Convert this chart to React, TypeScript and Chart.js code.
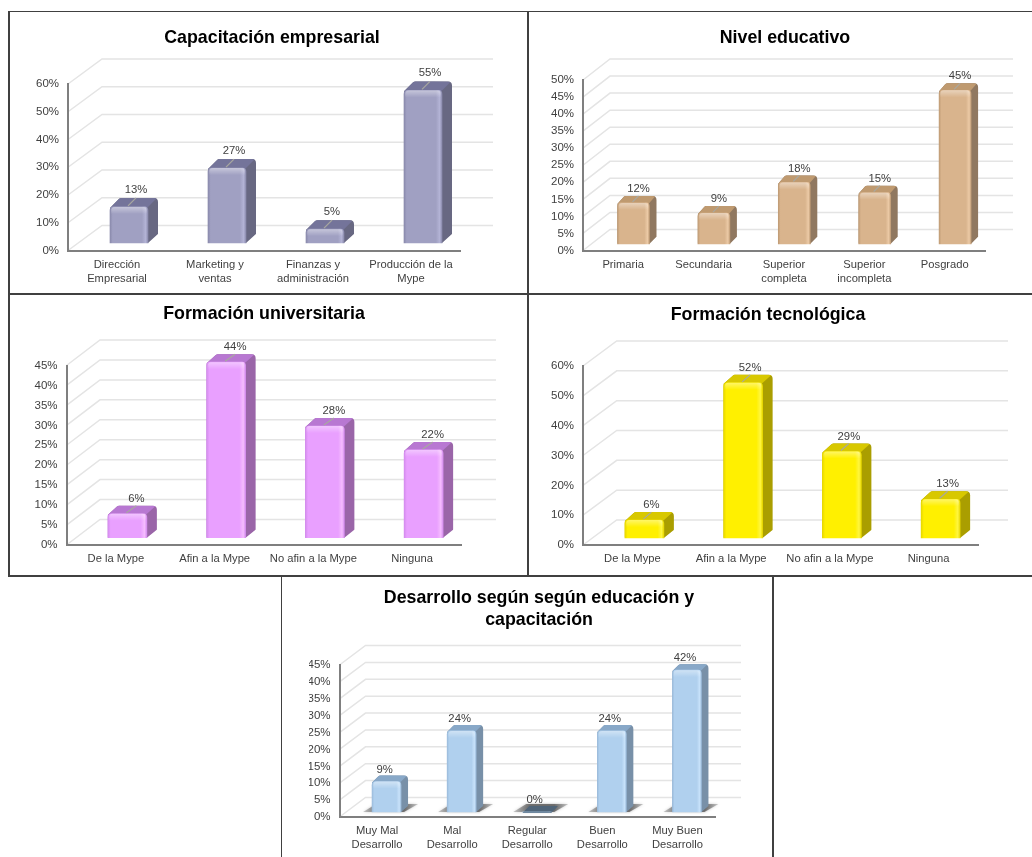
import React, { useEffect, useRef } from "react";
import { Chart, registerables } from "chart.js";

Chart.register(...registerables);

const FONT = "'Liberation Sans', Arial, sans-serif";

const capLabels = [["Dirección", "Empresarial"], ["Marketing y", "ventas"], ["Finanzas y", "administración"], ["Producción de la", "Mype"]];
const capValues = [13, 27, 5, 55];
const eduLabels = ["Primaria", "Secundaria", ["Superior", "completa"], ["Superior", "incompleta"], "Posgrado"];
const eduValues = [12, 9, 18, 15, 45];
const uniLabels = ["De la Mype", "Afin a la Mype", "No afin a la Mype", "Ninguna"];
const uniValues = [6, 44, 28, 22];
const tecLabels = ["De la Mype", "Afin a la Mype", "No afin a la Mype", "Ninguna"];
const tecValues = [6, 52, 29, 13];
const devLabels = [["Muy Mal", "Desarrollo"], ["Mal", "Desarrollo"], ["Regular", "Desarrollo"], ["Buen", "Desarrollo"], ["Muy Buen", "Desarrollo"]];
const devValues = [9, 24, 0, 24, 42];

type Panel = {
  title: string | string[]; labels: any[]; values: number[]; max: number; step: number;
  cx: number; half: number; top: number; height: number;
  axisX: number; axisEnd: number; axisTop: number; axisBottom: number; titleY: number;
  backX: number; backY: number; backRight: number; dx: number; dy: number; bw: number; dX: number; dY: number;
  front: string; side: string; topc: string; lblDx: number; lblDy: number; leader: boolean; shadow: boolean; edge: string; dark: string;
};

const panels: Panel[] = [
  { title: "Capacitación empresarial", labels: capLabels, values: capValues, max: 60, step: 10, cx: 272, half: 264, top: 11, height: 282,
    axisX: 68, axisEnd: 460, axisTop: 84, axisBottom: 250.5, titleY: 38, backX: 34, backY: -25, backRight: 493, dx: 12, dy: -7.5, bw: 38, dX: 10, dY: 9,
    front: "#a0a0c2", edge: "#b4b4d6", dark: "#8a8aac", side: "#686882", topc: "#74749a", lblDx: 7, lblDy: -17, leader: true, shadow: false },
  { title: "Nivel educativo", labels: eduLabels, values: eduValues, max: 50, step: 5, cx: 785, half: 247, top: 11, height: 282,
    axisX: 583, axisEnd: 985, axisTop: 80, axisBottom: 250.5, titleY: 38, backX: 27, backY: -21, backRight: 1013, dx: 10.3, dy: -6.7, bw: 32, dX: 7, dY: 7,
    front: "#d9b48d", edge: "#eccaa6", dark: "#c09c76", side: "#907860", topc: "#bf9a70", lblDx: 5, lblDy: -14, leader: true, shadow: false },
  { title: "Formación universitaria", labels: uniLabels, values: uniValues, max: 45, step: 5, cx: 264, half: 256, top: 293, height: 282,
    axisX: 66.5, axisEnd: 461.5, axisTop: 365.5, axisBottom: 545, titleY: 314, backX: 33.5, backY: -25.5, backRight: 496, dx: 11.5, dy: -7.3, bw: 39, dX: 10, dY: 8,
    front: "#e9a0ff", edge: "#f6bcff", dark: "#d48cee", side: "#9a65a8", topc: "#b878d2", lblDx: 9, lblDy: -15, leader: true, shadow: false },
  { title: "Formación tecnológica", labels: tecLabels, values: tecValues, max: 60, step: 10, cx: 768, half: 240, top: 293, height: 282,
    axisX: 583, axisEnd: 978, axisTop: 366, axisBottom: 545, titleY: 315, backX: 33.7, backY: -25, backRight: 1012, dx: 12, dy: -7, bw: 39, dX: 10, dY: 8,
    front: "#fff000", edge: "#fff640", dark: "#e8d800", side: "#aa9e00", topc: "#d8c800", lblDx: 7, lblDy: -15, leader: true, shadow: false },
  { title: ["Desarrollo según según educación y", "capacitación"], labels: devLabels, values: devValues, max: 45, step: 5, cx: 539, half: 230, top: 576, height: 281,
    axisX: 339.5, axisEnd: 715, axisTop: 665, axisBottom: 817, titleY: 609, backX: 26, backY: -19.5, backRight: 741, dx: 9.5, dy: -5, bw: 29, dX: 7, dY: 6,
    front: "#b0d0ee", edge: "#c8e2fa", dark: "#9cbcdc", side: "#7890a8", topc: "#88a8c8", lblDx: -2, lblDy: -12, leader: false, shadow: true },
];

function roundedPoly(ctx: any, pts: number[][], radii: number[]) {
  const n = pts.length;
  ctx.beginPath();
  const mx = (pts[n - 1][0] + pts[0][0]) / 2;
  const my = (pts[n - 1][1] + pts[0][1]) / 2;
  ctx.moveTo(mx, my);
  for (let i = 0; i < n; i++) {
    const a = pts[i];
    const b = pts[(i + 1) % n];
    ctx.arcTo(a[0], a[1], b[0], b[1], radii[i]);
  }
  ctx.closePath();
}

function canvasLeft(p: Panel) {
  return p.cx - p.half;
}

function makePlugin(p: Panel) {
  return {
    id: "bars3d",
    afterLayout(chart: any) {
      if (chart.titleBlock) {
        chart.titleBlock.left = 0;
        chart.titleBlock.right = chart.width;
      }
    },
    beforeDraw(chart: any) {
      const { ctx, scales } = chart;
      const y = scales.y;
      ctx.save();
      ctx.strokeStyle = "#e4e4e4";
      ctx.lineWidth = 1.5;
      for (const t of y.getTicks()) {
        const py = y.getPixelForValue(t.value);
        ctx.beginPath();
        ctx.moveTo(chart.chartArea.left, py);
        ctx.lineTo(chart.chartArea.left + p.backX, py + p.backY);
        ctx.lineTo(p.backRight - canvasLeft(p), py + p.backY);
        ctx.stroke();
      }
      ctx.restore();
    },
    beforeDatasetDraw(chart: any) {
      const { ctx } = chart;
      const meta = chart.getDatasetMeta(0);
      ctx.save();
      ctx.translate(p.dx, p.dy);
      meta.data.forEach((el: any, i: number) => {
        const { x, y: top, base } = el.getProps(["x", "y", "base"], true);
        const l = x - p.bw / 2;
        const r = x + p.bw / 2;
        if (p.shadow) {
          ctx.save();
          ctx.shadowColor = "rgba(70,70,70,0.55)";
          ctx.shadowBlur = 3;
          const g = ctx.createLinearGradient(l - 9, 0, r + 17, 0);
          g.addColorStop(0, "rgba(110,110,110,0.35)");
          g.addColorStop(0.3, "rgba(70,70,70,0.7)");
          g.addColorStop(0.75, "rgba(70,70,70,0.7)");
          g.addColorStop(1, "rgba(110,110,110,0.35)");
          ctx.fillStyle = g;
          ctx.beginPath();
          ctx.moveTo(l - 9, base);
          ctx.lineTo(r + 3, base);
          ctx.lineTo(r + p.dX + 10, base - p.dY - 2);
          ctx.lineTo(l + 4, base - p.dY - 2);
          ctx.closePath();
          ctx.fill();
          ctx.restore();
        }
        const flat = p.values[i] === 0;
        if (flat) {
          ctx.fillStyle = "#4f6478";
          roundedPoly(ctx, [
            [l, top + 1],
            [r, top + 1],
            [r + p.dX, top - p.dY],
            [l + p.dX, top - p.dY],
          ], [0.5, 0.5, 0.5, 0.5]);
          ctx.fill();
          return;
        }
        ctx.save();
        roundedPoly(ctx, [
          [l, top + 1],
          [l + p.dX, top - p.dY],
          [r + p.dX, top - p.dY],
          [r + p.dX, base - p.dY],
          [r, base],
          [l, base],
        ], [1, 3, 4, 1, 1, 1]);
        ctx.clip();
        ctx.fillStyle = p.side;
        ctx.fillRect(l - 1, top - p.dY - 1, p.bw + p.dX + 2, base - top + p.dY + 2);
        ctx.fillStyle = p.topc;
        ctx.beginPath();
        ctx.moveTo(l - 1, top + 1);
        ctx.lineTo(r - 1, top + 1);
        ctx.lineTo(r + p.dX - 1, top - p.dY);
        ctx.lineTo(l, top - p.dY - 1);
        ctx.closePath();
        ctx.fill();
        ctx.restore();
      });
      ctx.restore();
      ctx.save();
      ctx.translate(p.dx, p.dy);
    },
    afterDatasetDraw(chart: any) {
      const { ctx } = chart;
      const meta = chart.getDatasetMeta(0);
      meta.data.forEach((el: any, i: number) => {
        const { x, y: top, base } = el.getProps(["x", "y", "base"], true);
        if (p.values[i] === 0) return;
        const l = x - p.bw / 2;
        const h = Math.min(7, base - top);
        const g = ctx.createLinearGradient(0, top, 0, top + h);
        g.addColorStop(0, "rgba(255,255,255,0.4)");
        g.addColorStop(1, "rgba(255,255,255,0)");
        ctx.fillStyle = g;
        ctx.beginPath();
        ctx.roundRect(l + 1, top, p.bw - 2, h, [4, 4, 0, 0]);
        ctx.fill();
      });
      ctx.restore();
      ctx.save();
      ctx.font = `11.3px ${FONT}`;
      ctx.textAlign = "center";
      ctx.textBaseline = "middle";
      meta.data.forEach((el: any, i: number) => {
        const { x, y: top } = el.getProps(["x", "y"], true);
        const fx = x + p.dx;
        const fy = top + p.dy;
        if (p.leader) {
          ctx.strokeStyle = "#a8a8a0";
          ctx.lineWidth = 1.2;
          ctx.beginPath();
          ctx.moveTo(fx - 1, fy - 1);
          ctx.lineTo(fx + p.lblDx, fy - p.dY);
          ctx.stroke();
        }
        ctx.fillStyle = "#404040";
        ctx.fillText(`${p.values[i]}%`, fx + p.lblDx, fy + p.lblDy);
      });
      ctx.restore();
    },
  };
}

function ChartPanel({ p }: { p: Panel }) {
  const ref = useRef<HTMLCanvasElement | null>(null);
  useEffect(() => {
    const width = p.half * 2;
    const left = canvasLeft(p);
    const lines = Array.isArray(p.title) ? p.title.length : 1;
    const lh = 22;
    const tp = p.titleY - p.top - lh / 2 - (lines > 1 ? 11 : 0);
    const tb = p.axisTop - p.top - tp - lines * lh;
    const yW = 40;
    const xH = 40;
    const chart = new Chart(ref.current as HTMLCanvasElement, {
      type: "bar",
      data: {
        labels: p.labels,
        datasets: [{
          data: p.values,
          barThickness: p.bw,
          borderRadius: { topLeft: 4, topRight: 4, bottomLeft: 1, bottomRight: 1 },
          clip: false,
          backgroundColor: (c: any) => {
            const ch = c.chart;
            if (!ch.chartArea || c.dataIndex === undefined) return p.front;
            const x = ch.scales.x.getPixelForValue(c.dataIndex);
            const g = ch.ctx.createLinearGradient(x - p.bw / 2, 0, x + p.bw / 2, 0);
            g.addColorStop(0, p.dark);
            g.addColorStop(0.07, p.front);
            g.addColorStop(0.84, p.front);
            g.addColorStop(0.94, p.edge);
            g.addColorStop(1, p.dark);
            return g;
          },
        }],
      },
      plugins: [makePlugin(p)],
      options: {
        responsive: false,
        animation: false,
        layout: {
          padding: {
            left: p.axisX - left - yW,
            right: left + width - p.axisEnd,
            top: 0,
            bottom: p.top + p.height - p.axisBottom - xH,
          },
        },
        plugins: {
          legend: { display: false },
          tooltip: { enabled: false },
          title: {
            display: true,
            text: p.title,
            color: "#000000",
            font: { family: FONT, size: 17.8, weight: "bold", lineHeight: lh / 17.8 },
            padding: { top: tp, bottom: tb },
          },
        },
        scales: {
          x: {
            grid: { display: false, drawTicks: false },
            border: { display: true, color: "#7f7f7f", width: 2 },
            afterFit: (s: any) => { s.height = xH; },
            ticks: { color: "#404040", font: { family: FONT, size: 11.2, lineHeight: 1.25 }, padding: 7, autoSkip: false, maxRotation: 0, minRotation: 0 },
          },
          y: {
            min: 0,
            max: p.max,
            grid: { display: false, drawTicks: false },
            border: { display: true, color: "#7f7f7f", width: 2 },
            afterFit: (s: any) => { s.width = yW; },
            ticks: { color: "#404040", font: { family: FONT, size: 11.5 }, padding: 9, stepSize: p.step, callback: (v: any) => `${v}%` },
          },
        },
      } as any,
    } as any);
    return () => chart.destroy();
  }, [p]);
  return (
    <canvas
      ref={ref}
      width={p.half * 2}
      height={p.height}
      style={{ position: "absolute", left: canvasLeft(p), top: p.top, width: p.half * 2, height: p.height, display: "block", filter: "blur(0.4px)" }}
    />
  );
}

const line = (left: number, top: number, width: number, height: number) => (
  <div key={`${left}-${top}-${width}`} style={{ position: "absolute", left, top, width, height, background: "#404040" }} />
);

export default function App() {
  return (
    <div style={{ position: "absolute", left: 0, top: 0, width: 1032, height: 857, overflow: "hidden", background: "#ffffff" }}>
      {line(8, 10.5, 1024, 1.5)}
      {line(8, 293, 1024, 1.5)}
      {line(8, 575, 1024, 1.5)}
      {line(8, 10.5, 1.5, 566)}
      {line(527, 10.5, 1.5, 566)}
      {line(280.5, 575, 1.5, 282)}
      {line(772, 575, 1.5, 282)}
      {panels.map((p, i) => <ChartPanel key={i} p={p} />)}
    </div>
  );
}
